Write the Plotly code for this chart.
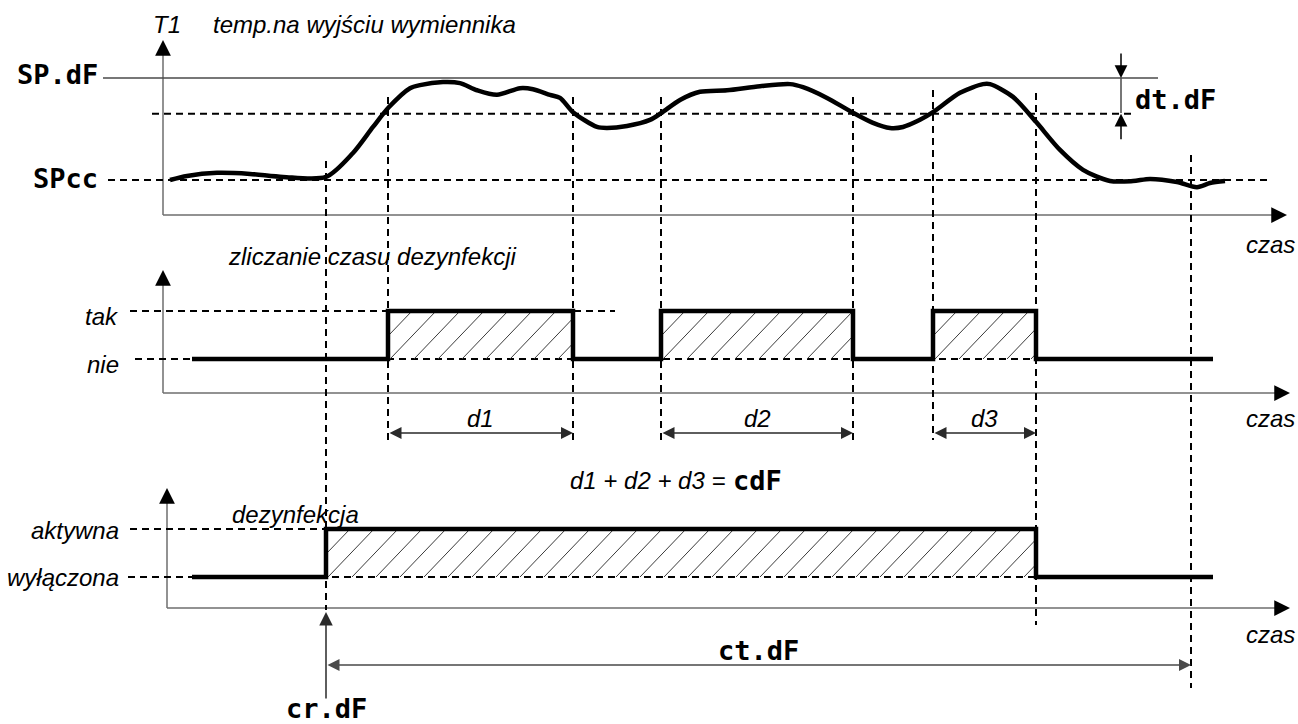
import plotly.graph_objects as go

# ---------------- data ----------------
SP_DF = 75.0      # disinfection setpoint
DT_DF = 7.0       # band below SP.dF in which the time is counted
SP_CC = 55.0      # normal setpoint

# T1 - temperature at the exchanger outlet
t_temp = [170, 187, 217, 250, 283, 326, 353, 373, 389, 410, 420, 443, 460, 477, 497, 520, 533, 550,
          560, 573, 597, 607, 627, 650, 661, 680, 700, 727, 760, 790, 803, 827, 852, 873, 890, 903,
          920, 933, 960, 983, 990, 1013, 1036, 1060, 1083, 1110, 1133, 1150, 1177, 1197, 1210, 1225]
temp = [55.0, 55.8, 56.4, 56.2, 55.6, 55.6, 60.3, 65.4, 69.3, 73.0, 73.6, 74.2, 74.0, 72.6, 71.7, 73.0, 72.8, 71.7,
        71.1, 68.3, 65.4, 65.2, 65.6, 66.8, 68.1, 70.7, 72.3, 72.6, 73.4, 73.8, 73.2, 71.1, 68.3, 66.2, 65.2, 65.4,
        66.8, 68.3, 72.1, 73.8, 73.8, 71.3, 66.4, 60.9, 57.0, 54.8, 54.8, 55.2, 54.6, 53.6, 54.4, 54.8]

# time counting intervals (d1, d2, d3)
count_start = [388, 661, 933]
count_end = [573, 853, 1036]
count_names = ["d1", "d2", "d3"]

# disinfection phase
dis_start = 326      # cr.dF
dis_end = 1036
ct_end = 1191        # end of ct.dF
signal_span = [192, 1213]

count_levels = ["nie", "tak"]
dis_levels = ["wyłączona", "aktywna"]

# ---------------- layout helpers ----------------
W, H = 1298, 724
TXT = dict(family="Liberation Sans, Arial", size=24, style="italic", color="black")
SEG = dict(family="DejaVu Sans Mono", size=27, weight="bold", color="black")
DASH = "7px,5px"
AX_COL = "#6e6e6e"


def pyf(py):
    """pixel row -> paper fraction"""
    return 1 - py / H


def axis_range(v0, py0, ppu):
    return [v0 - (H - py0) / ppu, v0 + py0 / ppu]


fig = go.Figure()
shapes, ann = [], []


def hline(yref, y, x0, x1, dash=DASH, color="black", width=2):
    shapes.append(dict(type="line", xref="x", yref=yref, x0=x0, x1=x1, y0=y, y1=y,
                       line=dict(color=color, width=width, dash=dash), layer="below"))


def vline(x, py0, py1, dash=DASH, color="black", width=2):
    shapes.append(dict(type="line", xref="x", yref="paper", x0=x, x1=x, y0=pyf(py0), y1=pyf(py1),
                       line=dict(color=color, width=width, dash=dash), layer="below"))


def head(x, py, ax, ay, size=2.1, color="black"):
    ann.append(dict(x=x, y=pyf(py), xref="x", yref="paper", ax=ax, ay=ay, text="",
                    showarrow=True, arrowhead=2, arrowsize=size, arrowwidth=1.5, arrowcolor=color))


def label(x, py, s, xanchor="left", font=TXT):
    ann.append(dict(x=x, y=pyf(py), xref="x", yref="paper", text=s, showarrow=False,
                    xanchor=xanchor, yanchor="middle", font=font))


def axes(x0, py0, x_tip, py_tip):
    vline(x0, py0, py_tip + 4, dash="solid", color=AX_COL, width=1.5)
    shapes.append(dict(type="line", xref="x", yref="paper", x0=x0, x1=x_tip - 4,
                       y0=pyf(py0), y1=pyf(py0), line=dict(color=AX_COL, width=1.5), layer="below"))
    head(x0, py_tip, 0, 16)
    head(x_tip, py0, -16, 0)


def hatch(x0, x1, yaxis, pitch=24, run=46):
    xs, ys = [], []
    c = x0 - run
    while c < x1:
        vs = max(0.0, (x0 - c) / run)
        ve = min(1.0, (x1 - c) / run)
        if ve > vs:
            xs += [c + vs * run, c + ve * run, None]
            ys += [vs, ve, None]
        c += pitch
    fig.add_trace(go.Scatter(x=xs, y=ys, yaxis=yaxis, mode="lines",
                             line=dict(color="#3a3a3a", width=1), hoverinfo="skip"))


def step(intervals, yaxis):
    xs, ys = [signal_span[0]], [0]
    for a, b in intervals:
        xs += [a, a, b, b]
        ys += [0, 1, 1, 0]
    xs.append(signal_span[1])
    ys.append(0)
    fig.add_trace(go.Scatter(x=xs, y=ys, yaxis=yaxis, mode="lines",
                             line=dict(color="black", width=4.5), hoverinfo="skip"))


# ---------------- panel 1: temperature ----------------
thr = SP_DF - DT_DF
hline("y", SP_DF, 103, 1158, dash="solid", color="#4a4a4a", width=1.5)
hline("y", thr, 152, 1133)
hline("y", SP_CC, 108, 1268)
fig.add_trace(go.Scatter(x=t_temp, y=temp, mode="lines", line=dict(color="black", width=4.5,
                         shape="spline", smoothing=0.8), hoverinfo="skip"))
axes(163, 215, 1287, 40)
label(151, 25, "T1")
label(211, 25, "temp.na wyjściu wymiennika")
label(100, 75, "SP.dF", "right", SEG)
label(100, 178, "SPcc", "right", SEG)
label(1297, 244, "czas", "right")

# dt.dF dimension
vline(1121, 78, 113, dash="solid", color="#4a4a4a", width=1.5)
ann.append(dict(x=1121, y=SP_DF, xref="x", yref="y", ax=0, ay=-26, text="", showarrow=True,
                arrowhead=2, arrowsize=1.7, arrowwidth=1.5, arrowcolor="black"))
ann.append(dict(x=1121, y=thr, xref="x", yref="y", ax=0, ay=27, text="", showarrow=True,
                arrowhead=2, arrowsize=1.7, arrowwidth=1.5, arrowcolor="black"))
label(1133, 100, "dt.dF", "left", SEG)

# ---------------- panel 2: time counting ----------------
hline("y2", 1, 130, 615)
hline("y2", 0, 135, count_end[-1])
hatch_intervals = list(zip(count_start, count_end))
for a, b in hatch_intervals:
    hatch(a, b, "y2")
step(hatch_intervals, "y2")
axes(163, 393, 1290, 270)
label(226, 256, "zliczanie czasu dezynfekcji")
label(121, 316, count_levels[1], "right")
label(121, 364, count_levels[0], "right")
label(1297, 418, "czas", "right")
for a, b, name in zip(count_start, count_end, count_names):
    ann.append(dict(x=b, y=pyf(433), xref="x", yref="paper", ax=a, ay=0, axref="x", ayref="pixel",
                    text="", showarrow=True, arrowside="end+start", arrowhead=2, startarrowhead=2,
                    arrowsize=1.6, startarrowsize=1.6, arrowwidth=1.5, arrowcolor="#2a2a2a"))
    label((a + b) / 2, 418, name, "center")
label(568, 480, "d1 + d2 + d3 =")
label(731, 480, "cdF", "left", SEG)

# ---------------- panel 3: disinfection ----------------
hline("y3", 1, 130, dis_start)
hline("y3", 0, 128, dis_end)
hatch(dis_start, dis_end, "y3")
step([(dis_start, dis_end)], "y3")
axes(167, 608, 1290, 488)
label(230, 514, "dezynfekcja")
label(121, 530, dis_levels[1], "right")
label(121, 577, dis_levels[0], "right")
label(1297, 634, "czas", "right")

# ct.dF and cr.dF
ann.append(dict(x=ct_end, y=pyf(665), xref="x", yref="paper", ax=dis_start, ay=0, axref="x",
                ayref="pixel", text="", showarrow=True, arrowside="end+start", arrowhead=2,
                startarrowhead=2, arrowsize=1.6, startarrowsize=1.6, arrowwidth=1.5,
                arrowcolor="#4a4a4a"))
label((dis_start + ct_end) / 2, 650, "ct.dF", "center", SEG)
head(dis_start, 612, 0, 88, size=1.8, color="#2a2a2a")
label(dis_start, 708, "cr.dF", "center", SEG)

# ---------------- event markers (threshold crossings) ----------------
vline(dis_start, 161, 610)
for a in count_start:
    vline(a, 90 if a == count_start[-1] else 97, 440)
for b in count_end[:-1]:
    vline(b, 97, 440)
vline(dis_end, 93, 625)
vline(ct_end, 155, 688)

fig.update_layout(
    width=W, height=H, margin=dict(l=0, r=0, t=0, b=0),
    paper_bgcolor="white", plot_bgcolor="white", showlegend=False, hovermode=False,
    xaxis=dict(range=[0, W], visible=False, fixedrange=True),
    yaxis=dict(range=axis_range(SP_CC, 180, 5.1), visible=False, fixedrange=True),
    yaxis2=dict(range=axis_range(0, 359, 48), overlaying="y", visible=False, fixedrange=True),
    yaxis3=dict(range=axis_range(0, 577, 48), overlaying="y", visible=False, fixedrange=True),
    shapes=shapes, annotations=ann,
)

fig.write_html("out.html")
